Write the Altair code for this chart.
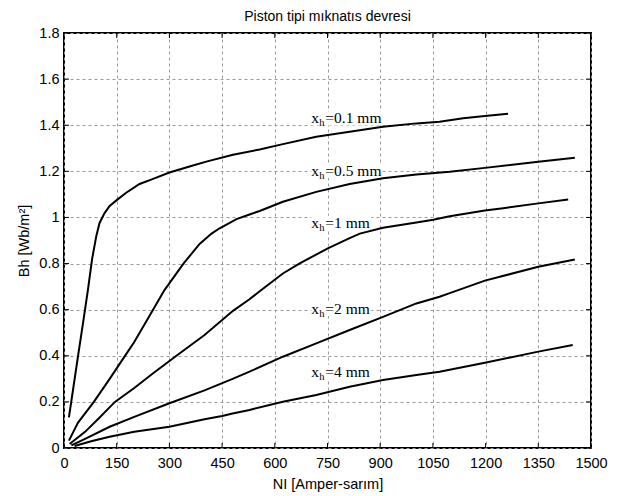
import altair as alt
import pandas as pd

# ---- data ----
x_01 = [14, 25, 40, 55, 68, 80, 92, 101, 115, 130, 150, 177, 215, 250, 300, 367, 405, 481, 557, 623, 718, 813, 908, 1003, 1069, 1136, 1198, 1264]
y_01 = [0.133, 0.245, 0.40, 0.55, 0.685, 0.82, 0.92, 0.975, 1.018, 1.05, 1.075, 1.107, 1.145, 1.165, 1.195, 1.225, 1.242, 1.272, 1.295, 1.318, 1.350, 1.372, 1.393, 1.408, 1.415, 1.430, 1.440, 1.450]

x_05 = [14, 40, 85, 130, 165, 200, 246, 286, 340, 386, 420, 443, 491, 528, 557, 623, 718, 813, 908, 1003, 1098, 1198, 1350, 1454]
y_05 = [0.032, 0.11, 0.20, 0.30, 0.38, 0.46, 0.58, 0.685, 0.80, 0.885, 0.93, 0.953, 0.993, 1.013, 1.028, 1.068, 1.111, 1.145, 1.170, 1.186, 1.198, 1.215, 1.242, 1.259]

x_1 = [16, 60, 100, 145, 200, 250, 320, 400, 481, 528, 557, 623, 671, 751, 813, 842, 908, 1003, 1051, 1098, 1198, 1250, 1350, 1435]
y_1 = [0.017, 0.07, 0.13, 0.20, 0.26, 0.32, 0.40, 0.49, 0.595, 0.645, 0.68, 0.757, 0.801, 0.866, 0.91, 0.93, 0.955, 0.978, 0.99, 1.005, 1.030, 1.040, 1.061, 1.078]

x_2 = [21, 60, 130, 200, 300, 400, 480, 528, 623, 718, 813, 908, 1003, 1069, 1098, 1198, 1350, 1454]
y_2 = [0.011, 0.04, 0.092, 0.135, 0.194, 0.25, 0.30, 0.331, 0.396, 0.454, 0.512, 0.569, 0.627, 0.656, 0.672, 0.726, 0.786, 0.818]

x_4 = [30, 80, 130, 200, 300, 400, 450, 480, 528, 623, 718, 813, 908, 1003, 1069, 1198, 1350, 1448]
y_4 = [0.009, 0.03, 0.049, 0.07, 0.092, 0.125, 0.139, 0.15, 0.165, 0.201, 0.23, 0.266, 0.295, 0.317, 0.331, 0.37, 0.418, 0.447]

series_names = ["0.1", "0.5", "1", "2", "4"]
series_x = [x_01, x_05, x_1, x_2, x_4]
series_y = [y_01, y_05, y_1, y_2, y_4]

label_text = ["=0.1 mm", "=0.5 mm", "=1 mm", "=2 mm", "=4 mm"]
label_wide = [True, True, False, False, False]
label_x = [704, 704, 704, 704, 704]
label_y = [1.408, 1.180, 0.955, 0.581, 0.309]

x_ticks = [0, 150, 300, 450, 600, 750, 900, 1050, 1200, 1350, 1500]
y_ticks = [0, 0.2, 0.4, 0.6, 0.8, 1.0, 1.2, 1.4, 1.6, 1.8]

# ---- tables ----
rows = []
for name, xs, ys in zip(series_names, series_x, series_y):
    for i, (a, b) in enumerate(zip(xs, ys)):
        rows.append({"s": name, "NI": a, "Bh": b, "o": i})
df = pd.DataFrame(rows)

lab = pd.DataFrame({"NI": label_x, "Bh": label_y, "t": label_text, "wide": label_wide})
xt = pd.DataFrame({"NI": x_ticks})
yt = pd.DataFrame({"Bh": y_ticks})

W, H = 527, 415
FONT = "Liberation Sans"
SERIF = "Liberation Serif"

xscale = alt.Scale(domain=[0, 1500], nice=False, zero=False)
yscale = alt.Scale(domain=[0, 1.8], nice=False, zero=False)

grid_kw = dict(grid=True, gridColor="#9a9a9a", gridDash=[3, 3], gridWidth=1,
               ticks=False, domain=False, labelFont=FONT, labelFontSize=14.5,
               labelColor="black", titleFont=FONT, titleFontSize=14.5,
               titleColor="black", titleFontWeight="normal",
               labelOverlap=False, labelFlush=False, labelBound=False)

x_axis = alt.Axis(values=x_ticks, title="NI [Amper-sarım]", format="d", labelPadding=8,
                  titlePadding=8, **grid_kw)
y_axis = alt.Axis(values=y_ticks, title="Bh [Wb/m²]", format="~g",
                  labelPadding=5, titlePadding=7, **grid_kw)

X = alt.X("NI:Q", scale=xscale, axis=x_axis)
Y = alt.Y("Bh:Q", scale=yscale, axis=y_axis)

lines = alt.Chart(df).mark_line(color="black", strokeWidth=2).encode(
    x=X, y=Y, detail="s:N", order="o:Q")

box_wide = alt.Chart(lab).transform_filter("datum.wide").mark_rect(
    color="white", x2Offset=71, yOffset=-12, y2Offset=2
).encode(x=X, x2="NI:Q", y=Y, y2="Bh:Q")
box_narrow = alt.Chart(lab).transform_filter("!datum.wide").mark_rect(
    color="white", x2Offset=60, yOffset=-12, y2Offset=2
).encode(x=X, x2="NI:Q", y=Y, y2="Bh:Q")

t_x = alt.Chart(lab).mark_text(text="x", font=SERIF, fontSize=15.5, align="left",
                               baseline="alphabetic", color="black").encode(x=X, y=Y)
t_h = alt.Chart(lab).mark_text(text="h", font=SERIF, fontSize=10.5, align="left",
                               baseline="alphabetic", dx=8, dy=3, color="black").encode(x=X, y=Y)
t_r = alt.Chart(lab).mark_text(font=SERIF, fontSize=15.5, align="left",
                               baseline="alphabetic", dx=14, color="black").encode(text="t:N", x=X, y=Y)

tick_bottom = alt.Chart(xt).mark_rule(color="black", strokeWidth=1).encode(
    x=X, y=alt.value(H), y2=alt.value(H - 5))
tick_top = alt.Chart(xt).mark_rule(color="black", strokeWidth=1).encode(
    x=X, y=alt.value(0), y2=alt.value(5))
tick_left = alt.Chart(yt).mark_rule(color="black", strokeWidth=1).encode(
    y=Y, x=alt.value(0), x2=alt.value(5))
tick_right = alt.Chart(yt).mark_rule(color="black", strokeWidth=1).encode(
    y=Y, x=alt.value(W), x2=alt.value(W - 5))

chart = alt.layer(
    box_wide, box_narrow, lines, t_x, t_h, t_r,
    tick_bottom, tick_top, tick_left, tick_right,
).properties(
    width=W, height=H,
    title=alt.TitleParams("Piston tipi mıknatıs devresi", font=FONT, fontSize=14,
                          fontWeight="normal", color="black", anchor="middle",
                          frame="group", offset=1),
    autosize=alt.AutoSizeParams(type="none"),
    padding={"left": 64, "top": 33, "right": 36, "bottom": 48},
).configure(background="white").configure_view(stroke="black", strokeWidth=2)

chart.save("out.html", embed_options={"renderer": "svg", "actions": False})
